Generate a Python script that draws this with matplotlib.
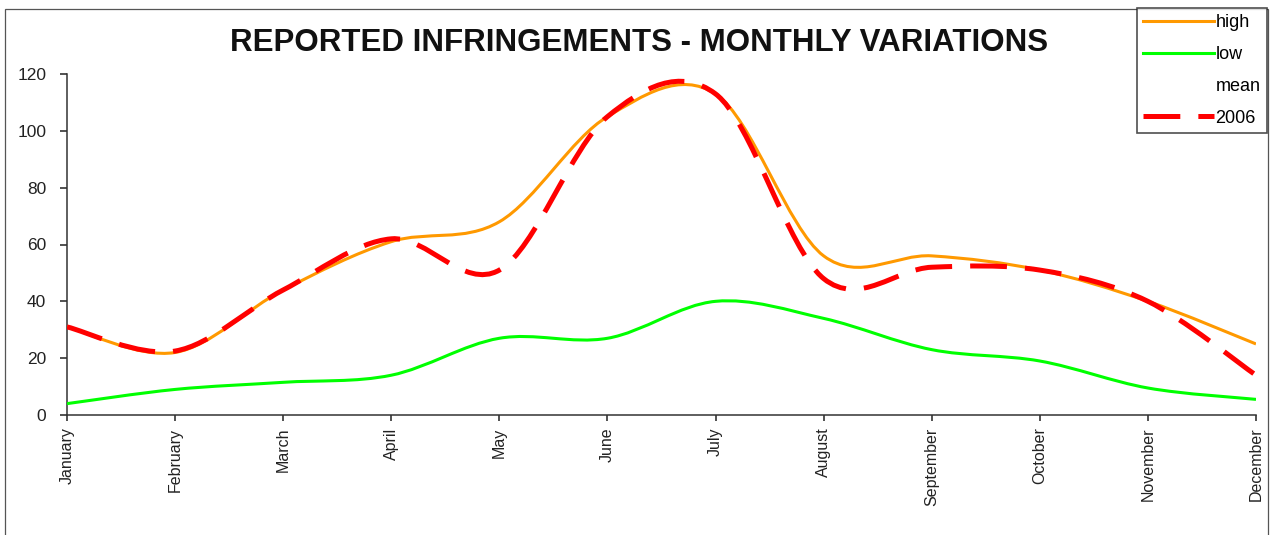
import numpy as np
import matplotlib
matplotlib.use("Agg")
import matplotlib.pyplot as plt
from matplotlib.path import Path
from matplotlib.patches import PathPatch, Rectangle
from matplotlib.lines import Line2D

plt.rcParams['font.family'] = ['Liberation Sans', 'DejaVu Sans']
plt.rcParams['lines.scale_dashes'] = False

months = ['January', 'February', 'March', 'April', 'May', 'June',
          'July', 'August', 'September', 'October', 'November', 'December']
high = [31, 22, 44, 61, 68, 105, 113, 56, 56, 51, 40, 25]
low = [4, 9, 11.5, 14, 27, 27, 40, 34, 23, 19, 9.5, 5.5]
year_2006 = [31, 22.5, 44, 62, 51, 105, 113, 48, 52, 51, 40, 14]
yticks = [0, 20, 40, 60, 80, 100, 120]


def smooth_path(xs, ys):
    # Excel-style smoothed line: cubic bezier through every point
    pts = np.column_stack([xs, ys]).astype(float)
    n = len(pts)
    verts = [pts[0]]
    codes = [Path.MOVETO]
    for i in range(n - 1):
        p0 = pts[max(i - 1, 0)]
        p1 = pts[i]
        p2 = pts[i + 1]
        p3 = pts[min(i + 2, n - 1)]
        c1 = p1 + (p2 - p0) / 6
        c2 = p2 - (p3 - p1) / 6
        verts += [c1, c2, p2]
        codes += [Path.CURVE4] * 3
    return Path(verts, codes)


fig = plt.figure(figsize=(12.73, 5.35), dpi=100)
ax = fig.add_axes([67 / 1273, 120 / 535, (1256 - 67) / 1273, (415 - 74) / 535])

x = np.arange(len(months))
red_dash = (0, (26.5, 13))

ax.add_patch(PathPatch(smooth_path(x, low), fill=False, edgecolor='#00ff00',
                       lw=2.2, joinstyle='round', zorder=3))
ax.add_patch(PathPatch(smooth_path(x, high), fill=False, edgecolor='#ff9900',
                       lw=2.2, joinstyle='round', zorder=4))
ax.add_patch(PathPatch(smooth_path(x, year_2006), fill=False, edgecolor='#ff0000',
                       lw=3.6, linestyle=red_dash, capstyle='butt', zorder=5))

ax.set_xlim(0, 11)
ax.set_ylim(0, 120)
ax.set_xticks(x)
ax.set_xticklabels(months, rotation=90, fontsize=11.5)
ax.set_yticks(yticks)
ax.set_yticklabels([str(v) for v in yticks], fontsize=12.5)
ax.tick_params(axis='x', direction='out', length=4, width=1.1, pad=5, colors='#222222')
ax.tick_params(axis='y', direction='out', length=5, width=1.1, pad=10, colors='#222222')
for side in ['top', 'right']:
    ax.spines[side].set_visible(False)
for side in ['left', 'bottom']:
    ax.spines[side].set_color('#333333')
    ax.spines[side].set_linewidth(1.1)

fig.text(639 / 1273, 1 - 43 / 535, 'REPORTED INFRINGEMENTS - MONTHLY VARIATIONS',
         ha='center', va='center', fontsize=22.5, fontweight='bold', color='#111111')

handles = [
    Line2D([], [], color='#ff9900', lw=2.2),
    Line2D([], [], color='#00ff00', lw=2.2),
    Line2D([], [], color='none', lw=2.2),
    Line2D([], [], color='#ff0000', lw=3.6, linestyle=red_dash, dash_capstyle='butt'),
]
leg = fig.legend(handles, ['high', 'low', 'mean', '2006'],
                 loc='upper left', bbox_to_anchor=(1137 / 1273, 1 - 8 / 535),
                 bbox_transform=fig.transFigure, borderaxespad=0,
                 fontsize=13, handlelength=3.9, handletextpad=0.1,
                 labelspacing=0.82, borderpad=0.35, frameon=True,
                 fancybox=False, shadow=False)
leg.get_frame().set_edgecolor('#222222')
leg.get_frame().set_linewidth(1.2)

# outer chart border
fig.patches.append(Rectangle((5 / 1273, -0.05), (1268 - 5) / 1273, 1.05 - 9 / 535,
                             transform=fig.transFigure, fill=False,
                             edgecolor='#555555', lw=0.9, zorder=0))

fig.savefig('out.png', dpi=100)
